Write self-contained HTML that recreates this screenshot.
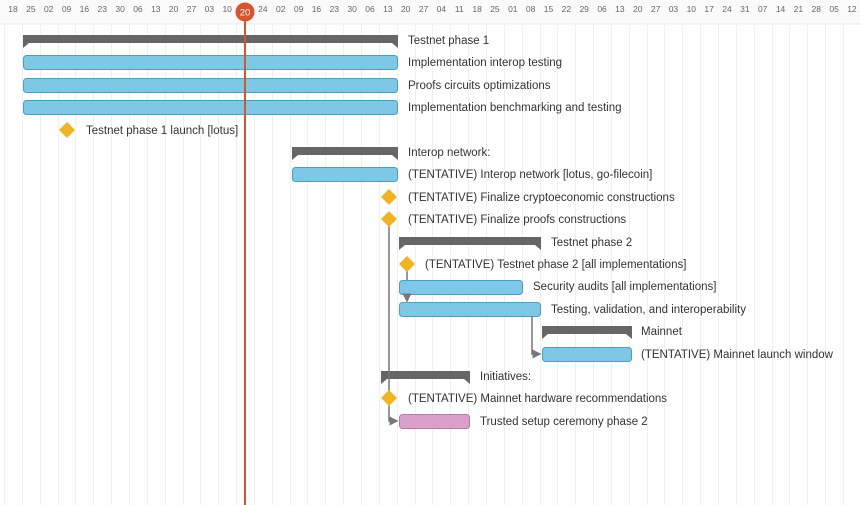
<!DOCTYPE html>
<html><head><meta charset="utf-8"><style>
body{margin:0;background:#fff;}
svg{display:block;font-family:"Liberation Sans",sans-serif;}
</style></head><body>
<svg width="860" height="505" viewBox="0 0 860 505" xmlns="http://www.w3.org/2000/svg">
<defs>
<marker id="ar" markerWidth="6" markerHeight="6" refX="5" refY="3" orient="auto"><path d="M0,0 L6,3 L0,6z" fill="#777"/></marker>
</defs>
<rect x="0" y="0" width="860" height="24" fill="#fafafa"/>
<line x1="0" y1="24" x2="860" y2="24" stroke="#e8e8e8"/>
<g id="grid"></g>
<g font-size="8.5" fill="#666" text-anchor="middle" id="hdr"></g>
<g id="body">
<g fill="#666">
<path d="M23,35 H398 V48 L392,43 H29 L23,48Z"/>
<path d="M292,147 H398 V160 L392,155 H298 L292,160Z"/>
<path d="M399,237 H541 V250 L535,245 H405 L399,250Z"/>
<path d="M542,326 H632 V339 L626,334 H548 L542,339Z"/>
<path d="M381,371 H470 V384 L464,379 H387 L381,384Z"/>
</g>
<g fill="#7ec8e6" stroke="#4a9ec0" stroke-width="1">
<rect x="23.5" y="55.5" width="374" height="14" rx="3"/>
<rect x="23.5" y="78.5" width="374" height="14" rx="3"/>
<rect x="23.5" y="100.5" width="374" height="14" rx="3"/>
<rect x="292.5" y="167.5" width="105" height="14" rx="3"/>
<rect x="399.5" y="280.5" width="123" height="14" rx="3"/>
<rect x="399.5" y="302.5" width="141" height="14" rx="3"/>
<rect x="542.5" y="347.5" width="89" height="14" rx="3"/>
</g>
<rect x="399.5" y="414.5" width="70" height="14" rx="3" fill="#d9a0cc" stroke="#b07aa5"/>
<g stroke="#777" stroke-width="1.5" fill="none">
<path d="M389,219 V421 H397" marker-end="url(#ar)"/>
<path d="M407,264 V280"/>
<path d="M407,294 V301" marker-end="url(#ar)"/>
<path d="M532,316 V354 H540" marker-end="url(#ar)"/>
</g>
<g fill="#f0b323">
<path d="M67,122 L75,130 L67,138 L59,130Z"/>
<path d="M389,189 L397,197 L389,205 L381,197Z"/>
<path d="M389,211 L397,219 L389,227 L381,219Z"/>
<path d="M407,256 L415,264 L407,272 L399,264Z"/>
<path d="M389,390 L397,398 L389,406 L381,398Z"/>
</g>
<g font-size="11.5" fill="#333" dominant-baseline="central" transform="translate(0,1)">
<text x="408" y="40">Testnet phase 1</text>
<text x="408" y="62">Implementation interop testing</text>
<text x="408" y="85">Proofs circuits optimizations</text>
<text x="408" y="107">Implementation benchmarking and testing</text>
<text x="86" y="130">Testnet phase 1 launch [lotus]</text>
<text x="408" y="152">Interop network:</text>
<text x="408" y="174">(TENTATIVE) Interop network [lotus, go-filecoin]</text>
<text x="408" y="197">(TENTATIVE) Finalize cryptoeconomic constructions</text>
<text x="408" y="219">(TENTATIVE) Finalize proofs constructions</text>
<text x="551" y="242">Testnet phase 2</text>
<text x="425" y="264">(TENTATIVE) Testnet phase 2 [all implementations]</text>
<text x="533" y="286">Security audits [all implementations]</text>
<text x="551" y="309">Testing, validation, and interoperability</text>
<text x="641" y="331">Mainnet</text>
<text x="641" y="354">(TENTATIVE) Mainnet launch window</text>
<text x="480" y="376">Initiatives:</text>
<text x="408" y="398">(TENTATIVE) Mainnet hardware recommendations</text>
<text x="480" y="421">Trusted setup ceremony phase 2</text>
</g>
</g>
<line x1="245" y1="12" x2="245" y2="505" stroke="#d9542b" stroke-width="2"/>
<circle cx="245" cy="12" r="9.5" fill="#d9542b"/>
<text x="245" y="15.5" font-size="9.5" fill="#fff" text-anchor="middle">20</text>
</svg>
<script>
var labels="18 25 02 09 16 23 30 06 13 20 27 03 10 17 24 02 09 16 23 30 06 13 20 27 04 11 18 25 01 08 15 22 29 06 13 20 27 03 10 17 24 31 07 14 21 28 05 12".split(" ");
var ns="http://www.w3.org/2000/svg",h=document.getElementById("hdr"),g=document.getElementById("grid");
labels.forEach(function(l,i){var x=13+i*17.85;
if(i!==13){var t=document.createElementNS(ns,"text");t.setAttribute("x",x);t.setAttribute("y",12);t.textContent=l;h.appendChild(t);}
var ln=document.createElementNS(ns,"line");var lx=Math.round(x-9)+0.5;ln.setAttribute("x1",lx);ln.setAttribute("x2",lx);ln.setAttribute("y1",25);ln.setAttribute("y2",505);ln.setAttribute("stroke","#efefef");g.appendChild(ln);});
</script>
</body></html>
